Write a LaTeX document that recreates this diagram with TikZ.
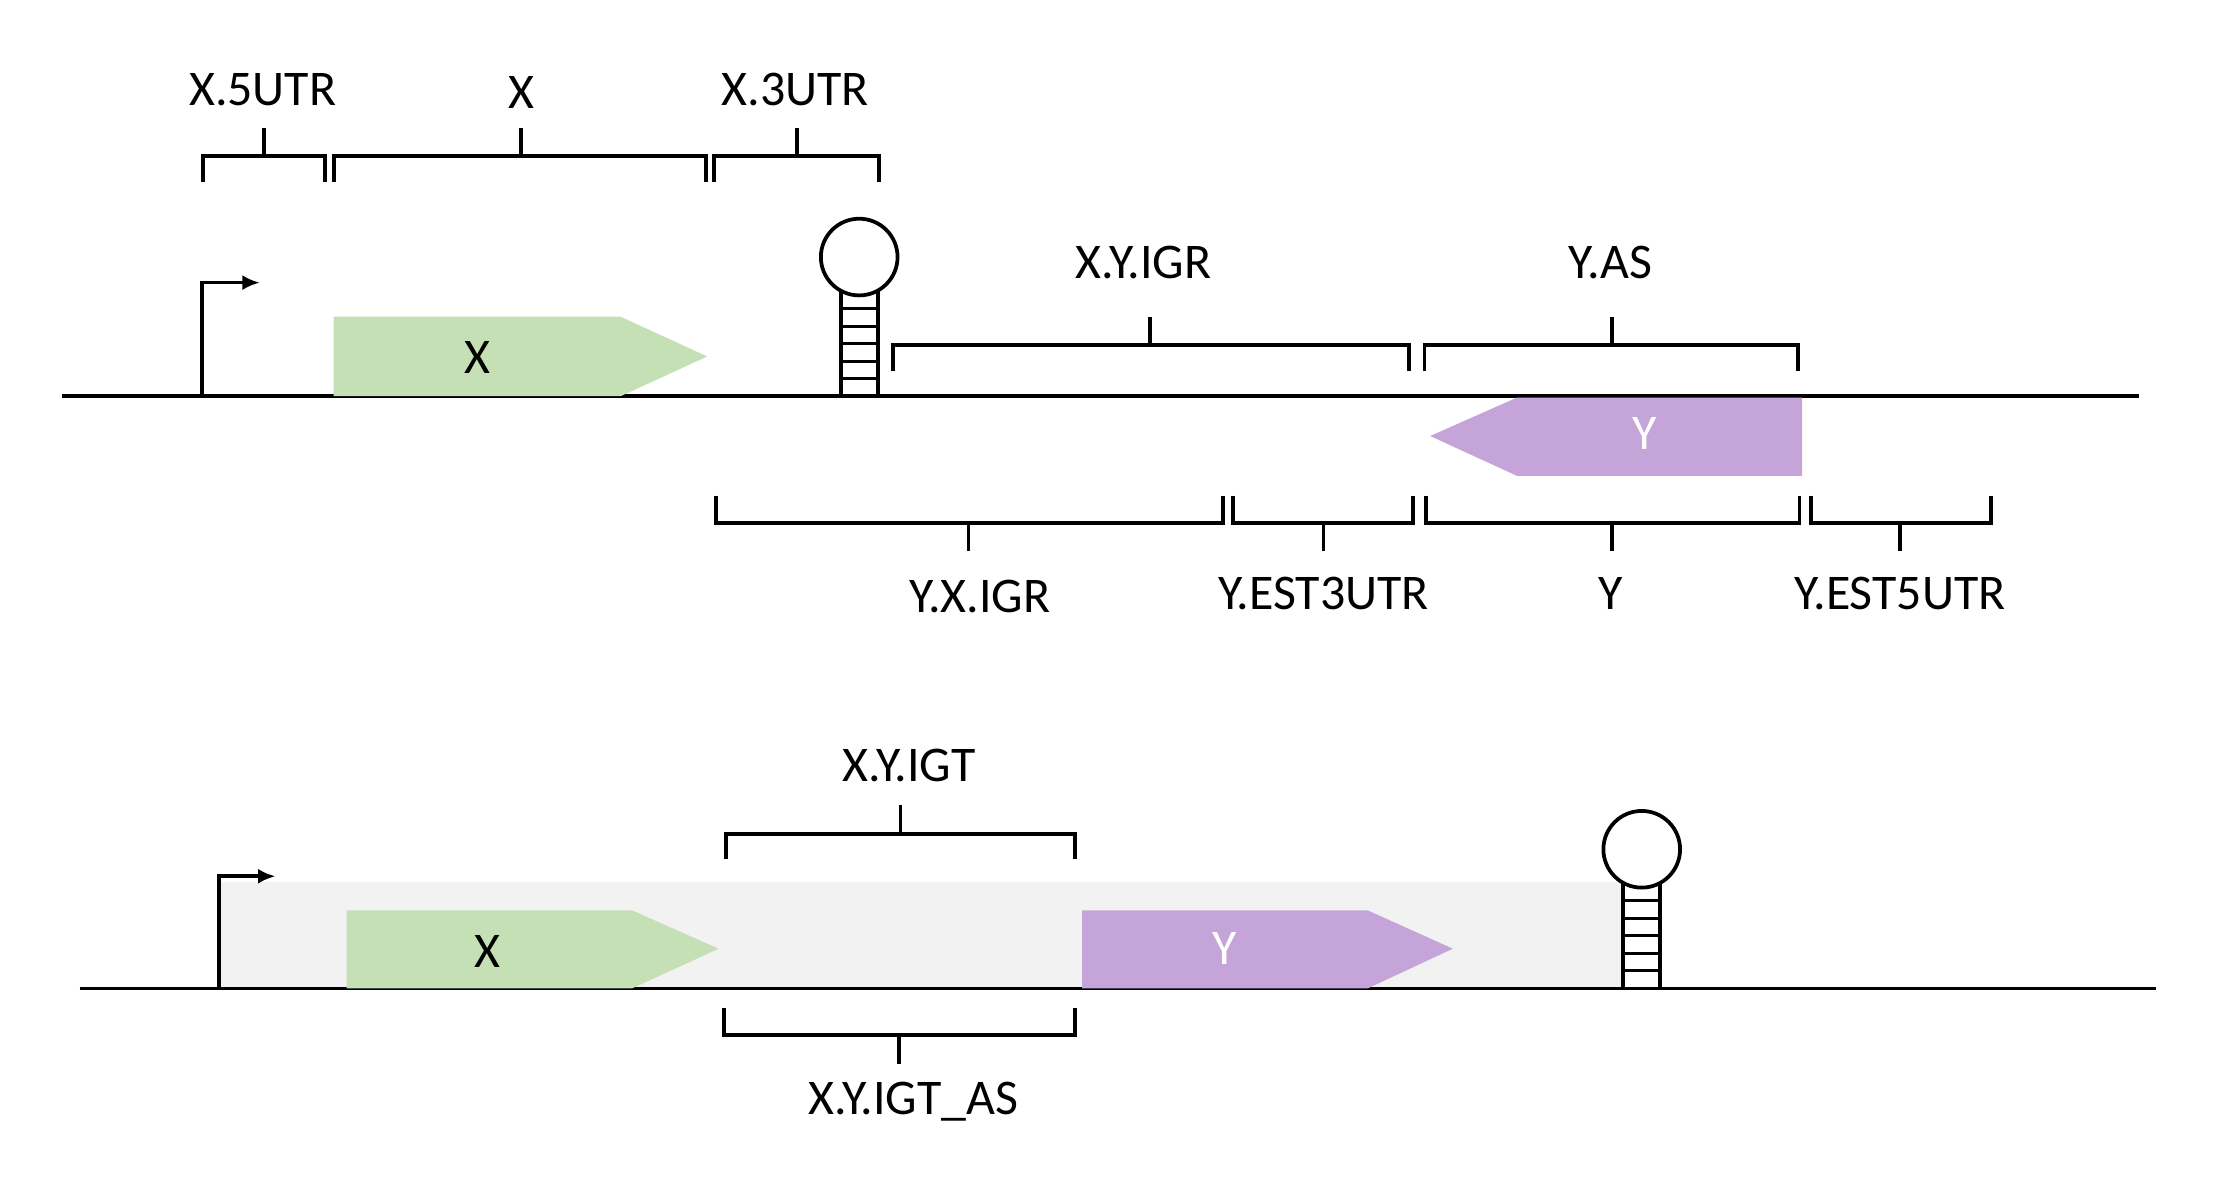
\documentclass[tikz,border=0pt]{standalone}
\usepackage{fontspec}
\setmainfont{Carlito}
\usetikzlibrary{arrows.meta}
\definecolor{gfill}{HTML}{C5E0B4}
\definecolor{pfill}{HTML}{C5A5D9}
\definecolor{bgray}{HTML}{F2F2F2}
\tikzset{x=0.02cm,y=-0.02cm,
 ln/.style={line width=1.5pt,black},
 lab/.style={font=\fontsize{20}{24}\selectfont,inner sep=0pt},
 wlab/.style={lab,text=white}}
\newcommand{\brUp}[4]{% x1 x2 y mid : ticks down, mid tick up
 \draw[ln] (#1,#3+18)--(#1,#3)--(#2,#3)--(#2,#3+18);
 \draw[ln] (#4,#3)--(#4,#3-20);}
\newcommand{\brDn}[4]{% ticks up, mid tick down
 \draw[ln] (#1,#3-19)--(#1,#3)--(#2,#3)--(#2,#3-19);
 \draw[ln] (#4,#3)--(#4,#3+20);}
\newcommand{\term}[3]{% x-left y-bottom y-top
 \draw[ln] (#1,#2)--(#1,#3) (#1+26,#2)--(#1+26,#3);
 \foreach \k in {1,...,5}{\draw[line width=1.2pt] (#1,{#2-\k*(#2-#3)/6})--(#1+26,{#2-\k*(#2-#3)/6});}
 \draw[ln] (#1+13,#3-24) circle[radius=27*0.02cm];}
\begin{document}
\begin{tikzpicture}
\useasboundingbox (0,0) rectangle (1566,843.6);
% ---- panel 1
\draw[ln] (44,279) coordinate (l1a) -- (1506,279) coordinate (l1b);
\draw[ln,-{Latex[length=7pt,width=6pt]}] (142,279)--(142,199)--(183,199);
\fill[gfill] (235,223)--(437,223)--(498,251)--(437,279)--(235,279)--cycle;
\node[lab] (gx1) at (336,252) {X};
\term{592}{279}{205}
\fill[pfill] (1269,280)--(1068,280)--(1007,307)--(1068,335)--(1269,335)--cycle;
\node[wlab] (gy1) at (1158,305) {Y};
\brUp{143}{229}{110}{186} \node[lab] (t1) at (185,63) {X.5UTR};
\brUp{235}{497}{110}{367} \node[lab] (t2) at (367,65) {X};
\brUp{503}{619}{110}{561} \node[lab] (t3) at (560,63) {X.3UTR};
\brUp{629}{992}{243}{810} \node[lab] (t4) at (805,185) {X.Y.IGR};
\brUp{1003}{1266}{243}{1135} \node[lab] (t5) at (1134,185) {Y.AS};
\brDn{504}{861}{368}{682} \node[lab] (b1) at (690,420) {Y.X.IGR};
\brDn{868}{995}{368}{932} \node[lab] (b2) at (932,418) {Y.EST3UTR};
\brDn{1004}{1267}{368}{1135} \node[lab] (b3) at (1134,418) {Y};
\brDn{1275}{1402}{368}{1338} \node[lab] (b4) at (1338,418) {Y.EST5UTR};
% ---- panel 2
\fill[bgray] (155,621) rectangle (1143,696);
\draw[ln] (56,696) coordinate (l2a) -- (1518,696) coordinate (l2b);
\draw[ln,-{Latex[length=7pt,width=6pt]}] (154,696)--(154,617)--(194,617);
\fill[gfill] (244,641)--(445,641)--(506,668)--(445,696)--(244,696)--cycle;
\node[lab] (gx2) at (343,670) {X};
\fill[pfill] (762,641)--(963,641)--(1023,668)--(963,696)--(762,696)--cycle;
\node[wlab] (gy2) at (862,668) {Y};
\term{1143}{696}{622}
\brUp{511}{757}{587}{634} \node[lab] (t6) at (640,539) {X.Y.IGT};
\brDn{510}{757}{729}{633} \node[lab] (b5) at (643,776) {X.Y.IGT\_AS};
\end{tikzpicture}
\end{document}
